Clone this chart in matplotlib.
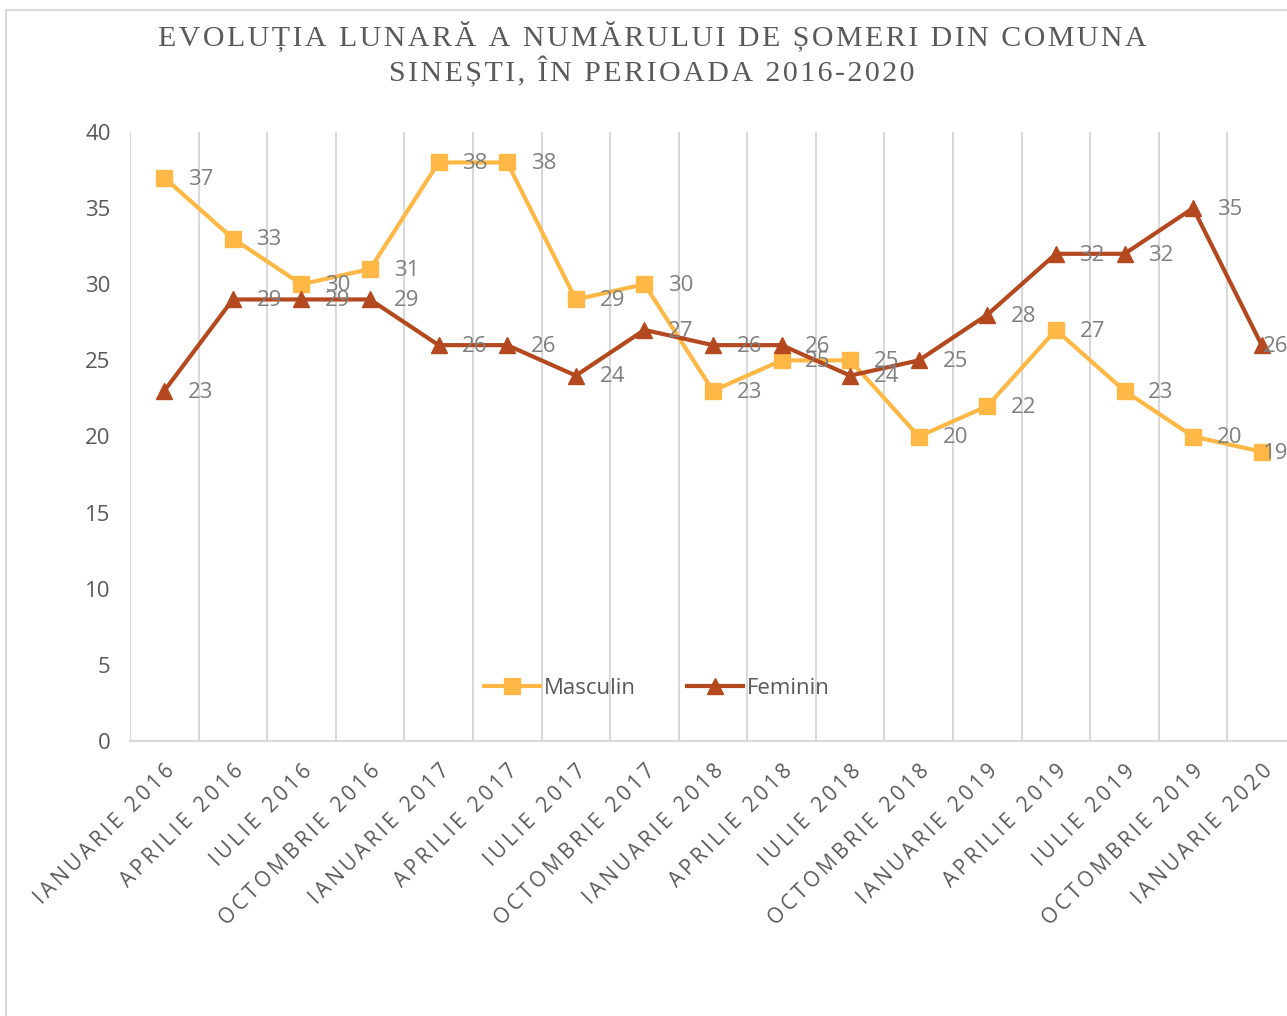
import matplotlib.pyplot as plt
from matplotlib.patches import Rectangle

categories = [
    "IANUARIE 2016", "APRILIE 2016", "IULIE 2016", "OCTOMBRIE 2016",
    "IANUARIE 2017", "APRILIE 2017", "IULIE 2017", "OCTOMBRIE 2017",
    "IANUARIE 2018", "APRILIE 2018", "IULIE 2018", "OCTOMBRIE 2018",
    "IANUARIE 2019", "APRILIE 2019", "IULIE 2019", "OCTOMBRIE 2019",
    "IANUARIE 2020",
]
masculin = [37, 33, 30, 31, 38, 38, 29, 30, 23, 25, 25, 20, 22, 27, 23, 20, 19]
feminin = [23, 29, 29, 29, 26, 26, 24, 27, 26, 26, 24, 25, 28, 32, 32, 35, 26]

title_lines = [
    "EVOLUȚIA LUNARĂ A NUMĂRULUI DE ȘOMERI DIN COMUNA",
    "SINEȘTI, ÎN PERIOADA 2016-2020",
]

C_MASC = "#FFB845"
C_FEM = "#B4481F"
GRID = "#D9D9D9"
TXT = "#595959"
LBL = "#7F7F7F"


def spaced(s, sep="\u200a"):
    return sep.join(s)


fig = plt.figure(figsize=(12.87, 10.16), dpi=100)

# chart area border (cut off at right/bottom)
fig.patches.append(Rectangle((6 / 1287, -0.1), 1.2, (1016 - 10) / 1016 + 0.1,
                             transform=fig.transFigure, fill=False,
                             edgecolor=GRID, linewidth=1.5))

ax = fig.add_axes([130 / 1287, 275 / 1016, (1296 - 130) / 1287, 609 / 1016])

x = list(range(len(categories)))
ax.plot(x, masculin, color=C_MASC, linewidth=3, marker="s", markersize=11.5,
        label="Masculin", zorder=3)
ax.plot(x, feminin, color=C_FEM, linewidth=3, marker="^", markersize=11.5,
        label="Feminin", zorder=3)

# data labels; the last ones are pushed in so they stay inside the chart
for series in (masculin, feminin):
    for xi, v in zip(x, series):
        dx = 1 if xi == x[-1] else 17
        ax.annotate(str(v), (xi, v), xytext=(dx, -1), textcoords="offset points",
                    ha="left", va="center", fontsize=16, color=LBL,
                    family="Open Sans", zorder=4)

ax.set_xlim(-0.5, len(categories) - 0.5)
ax.set_ylim(0, 40)
ax.set_yticks(range(0, 41, 5))
ax.set_xticks(x)
ax.set_xticklabels([spaced(c, "\u2009") for c in categories], rotation=45,
                   ha="right", va="top", rotation_mode="anchor",
                   fontsize=15, color=TXT, family="Open Sans")
ax.set_xticks([i - 0.5 for i in range(len(categories) + 1)], minor=True)
ax.grid(True, which="minor", axis="x", color=GRID, linewidth=1.5)
ax.tick_params(axis="both", which="both", length=0)
ax.tick_params(axis="y", labelsize=16, labelcolor=TXT, pad=14)
ax.tick_params(axis="x", pad=14)
for lab in ax.get_yticklabels():
    lab.set_family("Open Sans")

for s in ["top", "right", "left"]:
    ax.spines[s].set_visible(False)
ax.spines["bottom"].set_color(GRID)
ax.spines["bottom"].set_linewidth(1.5)

leg = fig.legend(loc="center", bbox_to_anchor=(657 / 1287, 1 - 688 / 1016),
                 ncol=2, frameon=False, handlelength=2.5,
                 handletextpad=0.2, columnspacing=2.3,
                 prop={"family": "Open Sans", "size": 16})
for t in leg.get_texts():
    t.set_color(TXT)

fig.text(652 / 1287, 1 - 36 / 1016, spaced(title_lines[0]), ha="center",
         va="center", fontsize=21.5, color=TXT, family="Liberation Serif")
fig.text(652 / 1287, 1 - 72 / 1016, spaced(title_lines[1]), ha="center",
         va="center", fontsize=21.5, color=TXT, family="Liberation Serif")

fig.savefig("out.png", dpi=100)
